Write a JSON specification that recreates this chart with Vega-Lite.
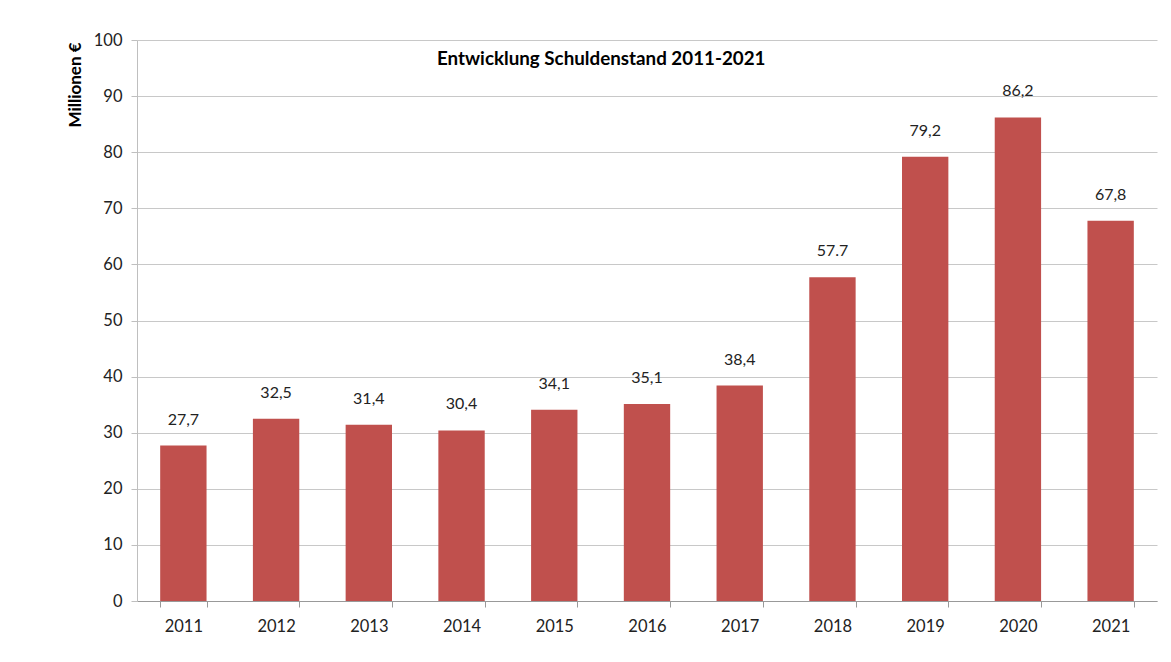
{
  "$schema": "https://vega.github.io/schema/vega-lite/v6.json",
  "autosize": "none",
  "width": 1020,
  "height": 561,
  "padding": {"left": 137, "top": 40, "right": 14, "bottom": 61},
  "background": "white",
  "config": {"view": {"stroke": null}, "font": "Lato"},
  "title": {
    "text": "Entwicklung Schuldenstand 2011-2021",
    "anchor": "start",
    "frame": "group",
    "dx": 300,
    "offset": -37,
    "font": "Lato",
    "fontSize": 18.8,
    "fontWeight": "bold",
    "color": "#000000"
  },
  "data": {
    "values": [
      {"jahr": "2011", "wert": 27.7, "label": "27,7"},
      {"jahr": "2012", "wert": 32.5, "label": "32,5"},
      {"jahr": "2013", "wert": 31.4, "label": "31,4"},
      {"jahr": "2014", "wert": 30.4, "label": "30,4"},
      {"jahr": "2015", "wert": 34.1, "label": "34,1"},
      {"jahr": "2016", "wert": 35.1, "label": "35,1"},
      {"jahr": "2017", "wert": 38.4, "label": "38,4"},
      {"jahr": "2018", "wert": 57.7, "label": "57.7"},
      {"jahr": "2019", "wert": 79.2, "label": "79,2"},
      {"jahr": "2020", "wert": 86.2, "label": "86,2"},
      {"jahr": "2021", "wert": 67.8, "label": "67,8"}
    ]
  },
  "encoding": {
    "x": {
      "field": "jahr",
      "type": "nominal",
      "scale": {"paddingInner": 0.5, "paddingOuter": 0.25},
      "axis": {
        "title": null,
        "labelAngle": 0,
        "labelFontSize": 16.5,
        "labelColor": "#222222",
        "labelPadding": 11,
        "tickBand": "extent",
        "tickSize": 6,
        "tickColor": "#999999",
        "domainColor": "#999999",
        "grid": false
      }
    },
    "y": {
      "field": "wert",
      "type": "quantitative",
      "scale": {"domain": [0, 100], "nice": false},
      "axis": {
        "title": "Millionen €",
        "titleFontSize": 17,
        "titleFontWeight": "bold",
        "titleColor": "#000000",
        "titleAngle": -90,
        "titleX": -62,
        "titleY": 2,
        "titleAlign": "right",
        "titleBaseline": "middle",
        "values": [0, 10, 20, 30, 40, 50, 60, 70, 80, 90, 100],
        "labelFontSize": 16.5,
        "labelColor": "#222222",
        "labelPadding": 9,
        "tickSize": 6,
        "tickColor": "#bfbfbf",
        "domainColor": "#bfbfbf",
        "gridColor": "#c8c8c8",
        "grid": true
      }
    }
  },
  "layer": [
    {"mark": {"type": "bar", "color": "#C0504D"}},
    {
      "mark": {"type": "text", "baseline": "middle", "dy": -26, "fontSize": 16, "color": "#222222"},
      "encoding": {"text": {"field": "label"}}
    }
  ]
}
